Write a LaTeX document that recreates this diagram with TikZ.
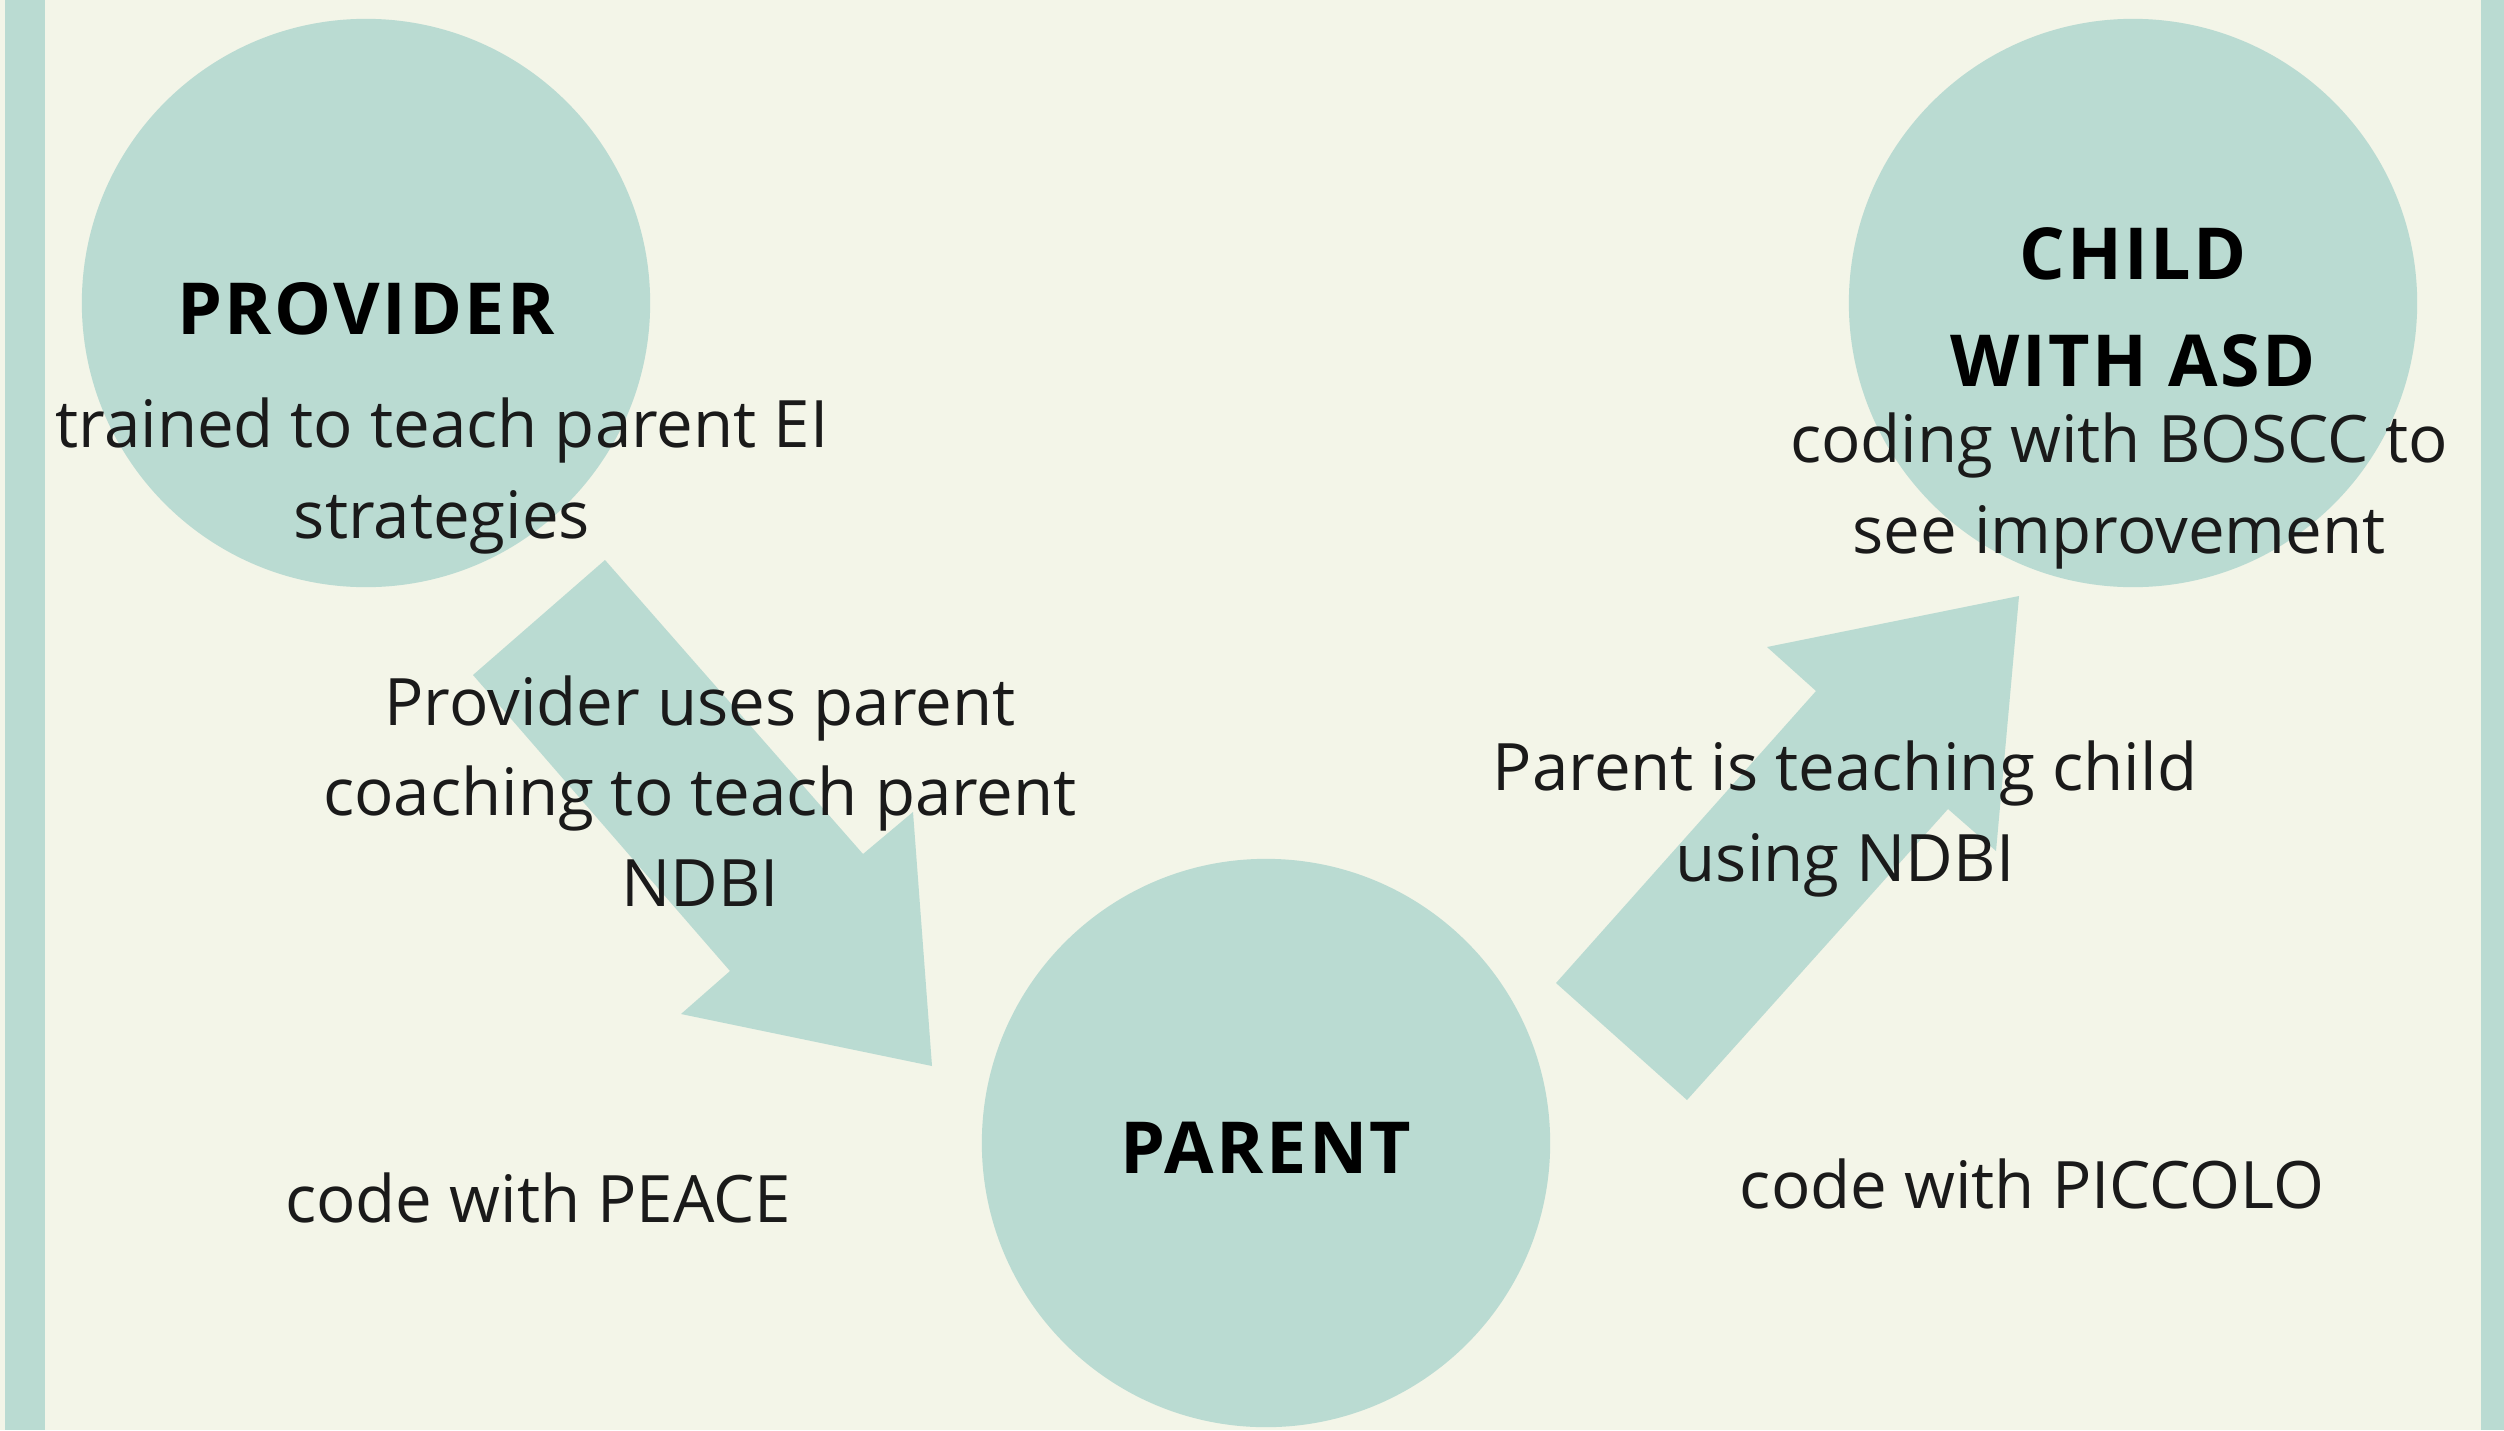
\documentclass[tikz,border=0pt]{standalone}
\usepackage{fontspec}
\setmainfont{Open Sans}
\newfontfamily\headfont{Open Sans}[LetterSpace=3.5]
\definecolor{cream}{HTML}{F3F5E8}
\definecolor{mint}{HTML}{BADBD2}
\definecolor{ink}{HTML}{1A1A1A}
\tikzset{
  blob/.style={circle, fill=mint, minimum size=5.68cm, inner sep=0pt},
  head/.style={align=center, inner sep=0pt,
    font=\headfont\bfseries\fontsize{20.4}{30.4}\selectfont},
  caption/.style={anchor=base, align=center, inner sep=0pt, text=ink,
    font=\fontsize{18.6}{25.6}\selectfont}
}

\begin{document}
\begin{tikzpicture}[x=0.01cm, y=-0.01cm]
\fill[cream] (0,0) rectangle (2504,1430);
\fill[mint] (5,0) rectangle (45,1430);
\fill[mint] (2481,0) rectangle (2504,1430);
\node[blob] (provider) at (366,303) {};
\node[blob] (parent) at (1266,1143) {};
\node[blob] (child) at (2133,303) {};
\node[head] (providerhead) at ([yshift=-0.06cm]provider.center) {PROVIDER};
\node[head] (parenthead) at ([yshift=-0.05cm]parent.center) {PARENT};
\node[head] (childhead) at ([yshift=-0.04cm]child.center) {CHILD\\WITH ASD};
\fill[mint] (605,560) -- (473,675) -- (730,971) -- (681,1014) -- (932,1066) -- (913,812) -- (863,854) -- cycle;
\fill[mint] (1556,983) -- (1687,1100) -- (1948,809) -- (1996,851) -- (2019,596) -- (1767,647) -- (1816,691) -- cycle;
\node[caption] (trained) at (442,538) {trained to teach parent EI\\strategies};
\node[caption] (boscc) at (2119,553) {coding with BOSCC to\\see improvement};
\node[caption] (coaching) at (700,906) {Provider uses parent\\coaching to teach parent\\NDBI};
\node[caption] (teaching) at (1845,881) {Parent is teaching child\\using NDBI};
\node[caption] (peace) at (538,1222) {code with PEACE};
\node[caption] (piccolo) at (2032,1208) {code with PICCOLO};
\end{tikzpicture}
\end{document}
